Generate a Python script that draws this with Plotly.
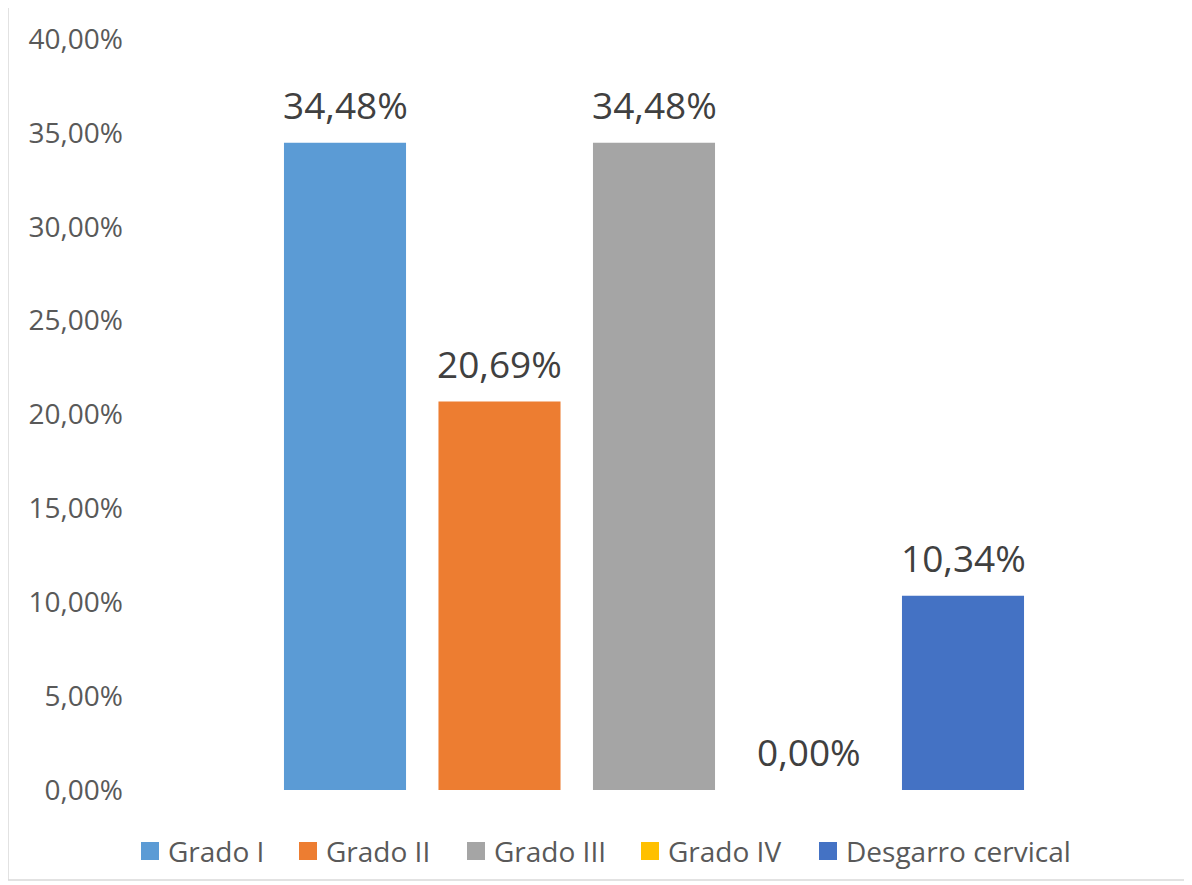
import plotly.graph_objects as go

series = ["Grado I", "Grado II", "Grado III", "Grado IV", "Desgarro cervical"]
values = [0.3448, 0.2069, 0.3448, 0.0, 0.1034]
colors = ["#5B9BD5", "#ED7D31", "#A5A5A5", "#FFC000", "#4472C4"]
y_ticks = [0, 0.05, 0.10, 0.15, 0.20, 0.25, 0.30, 0.35, 0.40]

W, H = 1192, 885
OFF = 8  # page body margin
PL, PR, PT, PB = 130, 1178, 39, 790  # plot area in page pixels
L, T = PL - OFF, PT - OFF
pw, ph = PR - PL, PB - PT
R = W - L - pw
B = H - T - ph

def px_x(x):
    return (x - PL) / pw

def px_y(y):
    return (PB - y) / ph

slot_px = 154.5
units = pw / slot_px
center = (len(series) - 1) / 2

# legend layout (page pixels): left edge of each swatch
legend_swatch_left = [141, 299, 467, 641, 819]
legend_y = 851
sw = 18

fig = go.Figure()
shapes = [dict(type="rect", xref="paper", yref="paper",
               x0=px_x(8), x1=px_x(1186), y0=px_y(880), y1=px_y(6),
               line=dict(color="#D9D9D9", width=1.5), layer="below")]

for i, (name, v, c) in enumerate(zip(series, values, colors)):
    fig.add_trace(go.Bar(
        x=[i], y=[v], name=name, width=0.79,
        marker=dict(color=c, line=dict(width=0)),
        showlegend=False, hoverinfo="skip",
    ))
    fig.add_annotation(
        x=i, y=v, xref="x", yref="y", text=f"{v*100:.2f}%".replace(".", ","),
        showarrow=False, yanchor="bottom", yshift=11,
        font=dict(size=37, color="#404040", family="Open Sans"),
    )
    sx = legend_swatch_left[i]
    shapes.append(dict(type="rect", xref="paper", yref="paper",
                       x0=px_x(sx), x1=px_x(sx + sw),
                       y0=px_y(legend_y + sw / 2), y1=px_y(legend_y - sw / 2),
                       fillcolor=c, line=dict(width=0)))
    fig.add_annotation(
        x=px_x(sx + sw + 7), y=px_y(legend_y), xref="paper", yref="paper",
        text=name, showarrow=False, xanchor="left", yanchor="middle",
        font=dict(size=28, color="#595959", family="Open Sans"),
    )

fig.update_layout(
    width=W, height=H,
    margin=dict(l=L, r=R, t=T, b=B),
    separators=",.",
    plot_bgcolor="white", paper_bgcolor="white",
    font=dict(family="Open Sans", color="#595959", size=28),
    xaxis=dict(range=[center - units / 2, center + units / 2], showticklabels=False,
               showgrid=False, zeroline=False, showline=False, fixedrange=True),
    yaxis=dict(range=[0, 0.40], tickvals=y_ticks, tickformat=".2%", showgrid=False,
               zeroline=False, showline=False, ticks="", ticklabelstandoff=6,
               tickfont=dict(size=28, color="#595959")),
    showlegend=False,
    shapes=shapes,
)

fig.write_html("out.html")
